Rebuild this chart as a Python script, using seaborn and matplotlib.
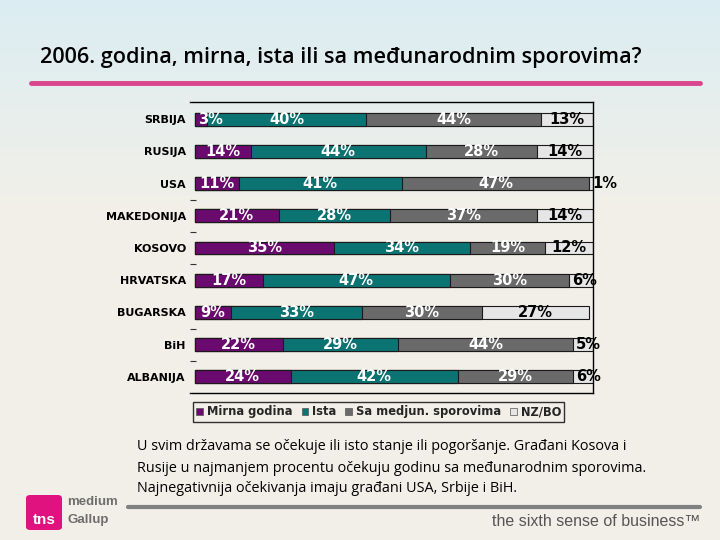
import numpy as np
import pandas as pd
import matplotlib
matplotlib.use("Agg")
import matplotlib.pyplot as plt
import seaborn as sns
from matplotlib.patches import Patch, FancyBboxPatch
from matplotlib.lines import Line2D

# ---------------- data ----------------
countries = ["SRBIJA", "RUSIJA", "USA", "MAKEDONIJA", "KOSOVO",
             "HRVATSKA", "BUGARSKA", "BiH", "ALBANIJA"]
mirna = [3, 14, 11, 21, 35, 17, 9, 22, 24]
ista = [40, 44, 41, 28, 34, 47, 33, 29, 42]
sporovi = [44, 28, 47, 37, 19, 30, 30, 44, 29]
nzbo = [13, 14, 1, 14, 12, 6, 27, 5, 6]
series_names = ["Mirna godina", "Ista", "Sa medjun. sporovima", "NZ/BO"]

colors = ["#6B0A6E", "#0C7373", "#6A6A6A", "#E6E6E6"]
text_colors = ["white", "white", "white", "black"]

sns.set_theme(style="white")
plt.rcParams['font.family'] = ['DejaVu Sans']

W, H = 720, 540
fig = plt.figure(figsize=(7.2, 5.4), dpi=100)

def fx(px):
    return px / W

def fy(py):
    return 1 - py / H

# ---------------- background ----------------
bg = fig.add_axes([0, 0, 1, 1], zorder=-10)
bg.axis('off')
topc = np.array([0.86, 0.93, 0.95])
botc = np.array([0.95, 0.94, 0.91])
t = np.clip(np.linspace(0, 1, H) / 0.4, 0, 1)[:, None]
grad = topc * (1 - t) + botc * t
img = np.repeat(grad[:, None, :], W, axis=1)
bg.imshow(img, aspect='auto', extent=[0, 1, 0, 1], origin='upper')
bg.set_xlim(0, 1)
bg.set_ylim(0, 1)

# ---------------- main chart ----------------
df = pd.DataFrame({"country": countries, "m": mirna, "i": ista,
                   "s": sporovi, "n": nzbo})
c1 = df["m"].to_numpy()
c2 = c1 + df["i"].to_numpy()
c3 = c2 + df["s"].to_numpy()
c4 = c3 + df["n"].to_numpy()

ax = fig.add_axes([fx(190), fy(393), fx(403), 291 / H])
ax.set_facecolor('none')

for vals, col in [(c4, colors[3]), (c3, colors[2]), (c2, colors[1]), (c1, colors[0])]:
    sns.barplot(x=vals, y=countries, orient='h', color=col, saturation=1,
                width=0.4, edgecolor='#1a1a1a', linewidth=0.8,
                errorbar=None, ax=ax)

ax.set_xlim(-1.25, 100)
ax.set_ylim(8.5, -0.53)
ax.set_xlabel('')
ax.set_ylabel('')
ax.set_xticks([])
ax.tick_params(axis='y', which='major', length=0, pad=3, labelsize=8)
for lab in ax.get_yticklabels():
    lab.set_fontweight('bold')
    lab.set_color('black')
ax.set_yticks([2.5, 3.5, 4.5, 6.5, 7.5], minor=True)
ax.tick_params(axis='y', which='minor', left=True, length=4, width=0.8,
               color='#333333', direction='in')
for side in ['top', 'bottom', 'right']:
    ax.spines[side].set_visible(True)
    ax.spines[side].set_color('black')
    ax.spines[side].set_linewidth(1)
ax.spines['left'].set_visible(False)

starts = [np.zeros(len(c1)), c1, c2, c3]
series = [mirna, ista, sporovi, nzbo]
for k in range(4):
    for i, v in enumerate(series[k]):
        s0 = starts[k][i]
        if v >= 8:
            ax.text(s0 + v / 2, i, f"{v}%", ha='center', va='center',
                    fontsize=10.5, fontweight='bold', color=text_colors[k])
        else:
            ax.text(s0 + 0.8, i, f"{v}%", ha='left', va='center',
                    fontsize=10.5, fontweight='bold', color=text_colors[k],
                    clip_on=False)

handles = [Patch(facecolor=c, edgecolor='#555555', linewidth=0.5) for c in colors]
leg = fig.legend(handles, series_names, loc='upper left',
                 bbox_to_anchor=(fx(193), fy(402)), ncol=4, frameon=True,
                 fancybox=False,
                 prop={'weight': 'bold', 'size': 8.3, 'family': 'DejaVu Sans'},
                 handlelength=0.6, handleheight=0.6, handletextpad=0.3,
                 columnspacing=0.8, borderpad=0.3, borderaxespad=0)
leg.get_frame().set_facecolor('none')
leg.get_frame().set_edgecolor('black')
leg.get_frame().set_linewidth(1)

# ---------------- title ----------------
fig.text(fx(40), fy(57), "2006. godina, mirna, ista ili sa međunarodnim sporovima?",
         fontsize=15.6, family='Open Sans', fontweight='semibold', va='center',
         ha='left', color='black')
fig.add_artist(Line2D([fx(31), fx(700)], [fy(83), fy(83)], color='#D9468C', lw=3.5))

# ---------------- footer ----------------
foot = ["U svim državama se očekuje ili isto stanje ili pogoršanje. Građani Kosova i",
        "Rusije u najmanjem procentu očekuju godinu sa međunarodnim sporovima.",
        "Najnegativnija očekivanja imaju građani USA, Srbije i BiH."]
for j, line in enumerate(foot):
    fig.text(fx(137), fy(447 + 21 * j), line, fontsize=10.4, family='Open Sans',
             va='center', ha='left', color='black')

fig.add_artist(Line2D([fx(128), fx(700)], [fy(507), fy(507)], color='#808080', lw=3))
fig.text(fx(700), fy(521), "the sixth sense of business™", ha='right', va='center',
         fontsize=11.5, family='Liberation Sans', color='#555555')

logo = FancyBboxPatch((fx(26), fy(530)), fx(36), 35 / H,
                      boxstyle="round,pad=0,rounding_size=0.006",
                      transform=fig.transFigure, facecolor='#E0127F',
                      edgecolor='none')
fig.add_artist(logo)
fig.text(fx(44), fy(520), "tns", ha='center', va='center', fontsize=11,
         fontweight='bold', color='white', family='Liberation Sans')
fig.text(fx(67), fy(502), "medium", ha='left', va='center', fontsize=9.5,
         fontweight='bold', color='#6E6E6E', family='Liberation Sans')
fig.text(fx(67), fy(520), "Gallup", ha='left', va='center', fontsize=9.5,
         fontweight='bold', color='#6E6E6E', family='Liberation Sans')

fig.savefig("out.png", dpi=100)
